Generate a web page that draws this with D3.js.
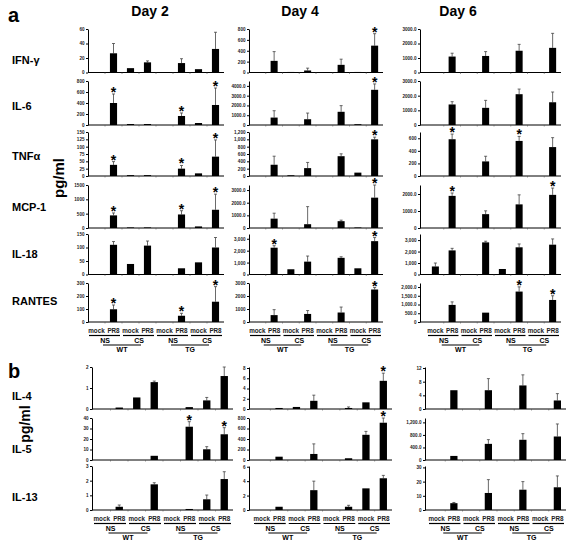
<!DOCTYPE html>
<html><head><meta charset="utf-8">
<script src="https://cdn.jsdelivr.net/npm/d3@7"></script>
<style>body{margin:0;background:#fff;} svg{display:block;font-family:"Liberation Sans",Arial,sans-serif;}</style>
</head><body><svg id="c" width="567" height="542"></svg>
<script>
// ---------- labels ----------
const days = ["Day 2","Day 4","Day 6"];
const slotLabels = ["mock","PR8","mock","PR8","mock","PR8","mock","PR8"];
const treatLabels = ["NS","CS","NS","CS"];
const strainLabels = ["WT","TG"];
const rowsA = ["IFN-γ","IL-6","TNFα","MCP-1","IL-18","RANTES"];
const rowsB = ["IL-4","IL-5","IL-13"];

// ---------- data: [Day 2, Day 4, Day 6], 8 groups each ----------
const IFNG      = [[0,26.5,6,14,0,13,4.6,32.5],[0,214,10,37,0,141,10,494],[0,1100,0,1140,0,1500,0,1700]];
const IFNG_err  = [[0,13.5,0,2,0,6,0,23],[0,170,0,43,0,104,0,220],[0,230,0,300,0,440,0,1000]];
const IFNG_star = [[],[7],[]];
const IFNG_ticks= [[0,20,40,60],[0,200,400,600,800],[0,1000,2000,3000]];
const IFNG_tlab = [["0","20","40","60"],["0","200","400","600","800"],["0","1000.0","2000.0","3000.0"]];
const IFNG_max  = [60,800,3000];

const IL6       = [[0,400,18,18,0,164,36,364],[0,760,0,590,0,1350,80,3600],[0,1400,0,1170,0,2100,0,1550]];
const IL6_err   = [[0,164,0,0,0,55,0,309],[0,700,0,630,0,630,0,600],[0,190,0,510,0,350,0,700]];
const IL6_star  = [[1,5,7],[7],[]];
const IL6_ticks = [[0,200,400,600,800],[0,1000,2000,3000,4000],[0,1000,2000,3000]];
const IL6_tlab  = [["0","200","400","600","800"],["0","1000.0","2000.0","3000.0","4000.0"],["0","1000.0","2000.0","3000.0"]];
const IL6_max   = [800,4500,3000];

const TNFA      = [[0,38,3,3,0,25,9,66],[0,307,20,215,0,540,92,1000],[0,585,0,232,0,558,0,460]];
const TNFA_err  = [[0,11,0,0,0,11,0,57],[0,233,0,155,0,65,0,60],[0,82,0,82,0,72,0,150]];
const TNFA_star = [[1,5,7],[7],[1,5]];
const TNFA_ticks= [[0,25,50,75,100,125,150],[0,200,400,600,800,1000,1200],[0,200,400,600]];
const TNFA_tlab = [["0","25","50","75","100","125","150"],["0","200","400","600","800","1,000","1,200"],["0","200","400","600"]];
const TNFA_max  = [150,1200,700];

const MCP1      = [[0,440,20,20,0,472,55,636],[0,740,0,300,0,540,40,2400],[0,1890,0,815,0,1390,0,1950]];
const MCP1_err  = [[0,85,0,0,0,131,0,545],[0,430,0,1390,0,80,0,1000],[0,170,0,195,0,560,0,400]];
const MCP1_star = [[1,5,7],[7],[1,7]];
const MCP1_ticks= [[0,500,1000,1500],[0,1000,2000,3000],[0,1000,2000]];
const MCP1_tlab = [["0","500","1000","1500"],["0","1000.0","2000.0","3000.0"],["0","1000.0","2000.0"]];
const MCP1_max  = [1500,3400,2530];

const IL18      = [[0,110,39,107,0,23,45,100],[0,2250,440,1080,0,1400,520,2800],[700,2100,0,2800,480,2370,0,2600]];
const IL18_err  = [[0,12,0,17,0,0,0,37],[0,170,0,470,0,90,0,300],[300,180,0,100,0,290,0,500]];
const IL18_star = [[],[1,7],[]];
const IL18_ticks= [[0,50,100,150],[0,1000,2000,3000],[0,1000,2000,3000]];
const IL18_tlab = [["0","50","100","150"],["0","1,000","2,000","3,000"],["0","1,000","2,000","3,000"]];
const IL18_max  = [150,3400,3530];

const RANTES      = [[0,98,0,0,0,48,0,156],[0,530,0,620,0,730,0,2500],[0,977,0,535,0,1740,0,1260]];
const RANTES_err  = [[0,33,0,0,0,19,0,116],[0,420,0,260,0,420,0,150],[0,173,0,0,0,270,0,240]];
const RANTES_star = [[1,5,7],[7],[5,7]];
const RANTES_ticks= [[0,100,200,300],[0,1000,2000,3000],[0,500,1000,1500,2000]];
const RANTES_tlab = [["0","100","200","300"],["0","1000","2000","3000"],["0","500.0","1,000.0","1,500.0","2,000.0"]];
const RANTES_max  = [300,3000,2230];

const IL4      = [[0,0.07,0.55,1.28,0,0.09,0.41,1.57],[0,0.2,0.4,1.6,0,0.2,1.3,5.5],[0,5.5,0,5.5,0,6.9,0,2.5]];
const IL4_err  = [[0,0,0,0.05,0,0,0.14,0.43],[0,0,0,1.1,0,0.2,0,1.5],[0,0,0,3.4,0,3.1,0,2]];
const IL4_star = [[],[7],[]];
const IL4_ticks= [[0,1,2],[0,2,4,6,8],[0,4,8,12]];
const IL4_tlab = [["0","1","2"],["0","2","4","6","8"],["0","4","8","12"]];
const IL4_max  = [2,8.2,12.3];

const IL5      = [[0,0,0,4,0,31.7,10.2,24.5],[0,63,0,115,0,33,480,710],[0,130,0,515,0,645,0,750]];
const IL5_err  = [[0,0,0,0,0,4.8,2.5,6.3],[0,0,0,192,0,0,65,90],[0,0,0,135,0,195,0,400]];
const IL5_star = [[5,7],[7],[]];
const IL5_ticks= [[0,10,20,30,40],[0,200,400,600,800],[0,400,800,1200]];
const IL5_tlab = [["0","10","20","30","40"],["0","200","400","600","800"],["0","400.0","800.0","1,200.0"]];
const IL5_max  = [40,800,1340];

const IL13      = [[0,0.22,0,1.75,0,0.07,0.73,2.11],[0,0.45,0,2.75,0,0.45,3.0,4.4],[0,4.8,0,12,0,14.3,0,16]];
const IL13_err  = [[0,0.12,0,0.11,0,0,0.29,0.5],[0,0,0,1.25,0,0.2,0,0.4],[0,0.5,0,9.4,0,5.7,0,8]];
const IL13_star = [[],[],[]];
const IL13_ticks= [[0,1,2,3],[0,2,4,6],[0,10,20,30]];
const IL13_tlab = [["0","1","2","3"],["0","2","4","6"],["0","10","20","30"]];
const IL13_max  = [3,6.1,31];

// ---------- layout ----------
const svg = d3.select("#c");
const colsA = [[88,88,224],[249,249,383],[420,427,561]];   // axis x, band start, band end
const colsB = [[92,93,233],[249,253,392],[425,428,566]];
const rowYA = [[29,72.5],[81,125],[132,176],[185,228],[234,274.5],[283,322]]; // top, base
const rowYB = [[367,409],[418,460],[466,510]];

const panelA = [[IFNG,IFNG_err,IFNG_star,IFNG_ticks,IFNG_tlab,IFNG_max],
                [IL6,IL6_err,IL6_star,IL6_ticks,IL6_tlab,IL6_max],
                [TNFA,TNFA_err,TNFA_star,TNFA_ticks,TNFA_tlab,TNFA_max],
                [MCP1,MCP1_err,MCP1_star,MCP1_ticks,MCP1_tlab,MCP1_max],
                [IL18,IL18_err,IL18_star,IL18_ticks,IL18_tlab,IL18_max],
                [RANTES,RANTES_err,RANTES_star,RANTES_ticks,RANTES_tlab,RANTES_max]];
const panelB = [[IL4,IL4_err,IL4_star,IL4_ticks,IL4_tlab,IL4_max],
                [IL5,IL5_err,IL5_star,IL5_ticks,IL5_tlab,IL5_max],
                [IL13,IL13_err,IL13_star,IL13_ticks,IL13_tlab,IL13_max]];

function drawChart(col, row, means, errs, stars, ticks, tlab, ymax, withLabels) {
  const g = svg.append("g");
  const x = d3.scaleBand().domain(d3.range(8)).range([col[1], col[2]]).paddingInner(0.58).paddingOuter(0.29);
  const y = d3.scaleLinear().domain([0, ymax]).range([row[1], row[0]]);
  const ax = g.append("g").attr("transform", `translate(${col[0]},0)`)
    .call(d3.axisLeft(y).tickValues(ticks).tickFormat((d,i)=>tlab[i]).tickSize(2).tickSizeOuter(0).tickPadding(1.5));
  ax.selectAll("text").attr("font-size", 4.6).attr("fill", "#222").attr("font-weight","bold");
  ax.select(".domain").attr("stroke", "#000").attr("stroke-width", 1);
  ax.selectAll(".tick line").attr("stroke", "#000");
  g.append("line").attr("x1", col[0]).attr("x2", col[2]).attr("y1", y(0)).attr("y2", y(0))
    .attr("stroke", "#000").attr("stroke-width", 1);
  d3.range(1, 8).forEach(i => {
    const xx = col[1] + x.step() * i;
    g.append("line").attr("x1", xx).attr("x2", xx).attr("y1", y(0)).attr("y2", y(0) + 1.5).attr("stroke", "#555").attr("stroke-width", 0.6);
  });
  means.forEach((v, i) => {
    const e = errs[i];
    if (e > 0) {
      const cx = x(i) + x.bandwidth() / 2;
      g.append("line").attr("x1", cx).attr("x2", cx).attr("y1", y(v)).attr("y2", y(v + e)).attr("stroke", "#444").attr("stroke-width", 0.8);
      g.append("line").attr("x1", cx - 1.5).attr("x2", cx + 1.5).attr("y1", y(v + e)).attr("y2", y(v + e)).attr("stroke", "#444").attr("stroke-width", 0.8);
    }
  });
  g.selectAll("rect.bar").data(means).join("rect").attr("class", "bar")
    .attr("x", (d, i) => x(i)).attr("width", x.bandwidth())
    .attr("y", d => y(d)).attr("height", d => Math.max(0, y(0) - y(d)))
    .attr("fill", "#000");
  stars.forEach(i => {
    const cx = x(i) + x.bandwidth() / 2;
    g.append("text").attr("x", cx).attr("y", y(means[i] + errs[i]) + 3).attr("text-anchor", "middle")
      .attr("font-size", 14).attr("font-weight", "bold").text("*");
  });
  if (withLabels) {
    const b = y(0);
    slotLabels.forEach((s, i) => {
      g.append("text").attr("x", x(i) + x.bandwidth() / 2).attr("y", b + 10.5).attr("text-anchor", "middle")
        .attr("font-size", 6.3).attr("font-weight", "bold").attr("fill", "#222").text(s);
    });
    treatLabels.forEach((s, j) => {
      const x0 = col[1] + x.step() * 2 * j, x1 = x0 + x.step() * 2;
      g.append("line").attr("x1", x0 + 1).attr("x2", x1 - 2).attr("y1", b + 13.5).attr("y2", b + 13.5).attr("stroke", "#000").attr("stroke-width", 1.2);
      g.append("text").attr("x", (x0 + x1) / 2).attr("y", b + 20.5).attr("text-anchor", "middle")
        .attr("font-size", 7).attr("font-weight", "bold").text(s);
    });
    strainLabels.forEach((s, k) => {
      const x0 = col[1] + x.step() * 4 * k, x1 = x0 + x.step() * 4;
      g.append("line").attr("x1", x0 + x.step() - 2).attr("x2", x1 - x.step() + 2).attr("y1", b + 23).attr("y2", b + 23).attr("stroke", "#000").attr("stroke-width", 1.2);
      g.append("text").attr("x", (x0 + x1) / 2).attr("y", b + 30).attr("text-anchor", "middle")
        .attr("font-size", 7).attr("font-weight", "bold").text(s);
    });
  }
}

panelA.forEach((r, ri) => {
  for (let d = 0; d < 3; d++) {
    drawChart(colsA[d], rowYA[ri], r[0][d], r[1][d], r[2][d], r[3][d], r[4][d], r[5][d], ri === panelA.length - 1);
  }
});
panelB.forEach((r, ri) => {
  for (let d = 0; d < 3; d++) {
    drawChart(colsB[d], rowYB[ri], r[0][d], r[1][d], r[2][d], r[3][d], r[4][d], r[5][d], ri === panelB.length - 1);
  }
});

svg.append("text").attr("x", 8).attr("y", 22).attr("font-size", 20).attr("font-weight", "bold").text("a");
svg.append("text").attr("x", 8).attr("y", 378).attr("font-size", 20).attr("font-weight", "bold").text("b");
[150, 300, 458].forEach((cx, i) => {
  svg.append("text").attr("x", cx).attr("y", 16).attr("text-anchor", "middle").attr("font-size", 14).attr("font-weight", "bold").text(days[i]);
});
const rowLabYA = [64, 110, 160, 211, 258, 305];
rowsA.forEach((s, i) => svg.append("text").attr("x", 12).attr("y", rowLabYA[i]).attr("font-size", 11).attr("font-weight", "bold").text(s));
const rowLabYB = [400, 453, 501];
rowsB.forEach((s, i) => svg.append("text").attr("x", 12).attr("y", rowLabYB[i]).attr("font-size", 11).attr("font-weight", "bold").text(s));
svg.append("text").attr("transform", "translate(30,424) rotate(-90)").attr("text-anchor", "middle").attr("font-size", 14).attr("font-weight", "bold").text("pg/ml");
svg.append("text").attr("transform", "translate(64,178) rotate(-90)").attr("text-anchor", "middle").attr("font-size", 15).attr("font-weight", "bold").text("pg/ml");
</script></body></html>
